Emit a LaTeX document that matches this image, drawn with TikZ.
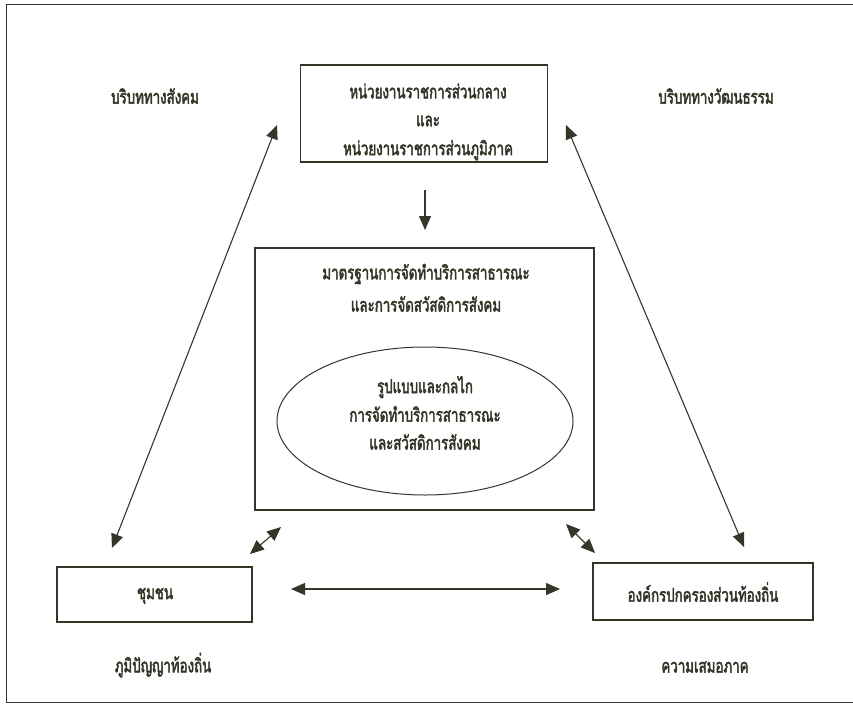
\documentclass[tikz,border=0pt]{standalone}
\usepackage{fontspec}
\newfontfamily\thai[Script=Thai,FakeStretch=0.7,FakeBold=2.4]{Loma}
\usetikzlibrary{arrows.meta,shapes.geometric}
\definecolor{ink}{RGB}{52,54,40}
\begin{document}
\begin{tikzpicture}[x=1pt,y=-1pt,
  lbl/.style={font=\thai\fontsize{19}{30}\selectfont, text=ink, align=center, inner sep=0pt},
  box/.style={draw=ink, line width=1.3pt, inner sep=0pt},
  conn/.style={draw=ink, line width=1.1pt, {Triangle[length=14pt,width=12pt]}-{Triangle[length=14pt,width=12pt]}},
  oneway/.style={draw=ink, line width=1.1pt, -{Triangle[length=14pt,width=12pt]}}]
\useasboundingbox (0,0) rectangle (853,707);
% outer frame
\draw[ink, line width=1pt] (853,4) -- (6,4) -- (6,702) -- (853,702);
% boxes
\node[box, minimum width=247pt, minimum height=97pt] (top) at (424,113.5) {};
\node[box, minimum width=339pt, minimum height=262pt] (mid) at (424.5,379) {};
\node[draw=ink, line width=1pt, ellipse, minimum width=296pt, minimum height=148pt, inner sep=0pt] (ell) at (425,421) {};
\node[box, minimum width=195pt, minimum height=55pt] (comm) at (154.5,594.5) {};
\node[box, minimum width=220pt, minimum height=57pt] (lao) at (703,591.5) {};
% texts
\node[lbl] (tSoc) at (155,96) {บริบททางสังคม};
\node[lbl] (tCul) at (716,96) {บริบททางวัฒนธรรม};
\node[lbl] (tTop1) at (428,91) {หน่วยงานราชการส่วนกลาง};
\node[lbl] (tTop2) at (428,121) {และ};
\node[lbl] (tTop3) at (428,150) {หน่วยงานราชการส่วนภูมิภาค};
\node[lbl] (tMid1) at (426,274) {มาตรฐานการจัดทำบริการสาธารณะ};
\node[lbl] (tMid2) at (426,304) {และการจัดสวัสดิการสังคม};
\node[lbl] (tEll1) at (425,387) {รูปแบบและกลไก};
\node[lbl] (tEll2) at (425,414) {การจัดทำบริการสาธารณะ};
\node[lbl] (tEll3) at (425,442) {และสวัสดิการสังคม};
\node[lbl] (tComm) at (155,596) {ชุมชน};
\node[lbl] (tLao) at (703,592) {องค์กรปกครองส่วนท้องถิ่น};
\node[lbl] (tWis) at (163,665) {ภูมิปัญญาท้องถิ่น};
\node[lbl] (tEq) at (705,667) {ความเสมอภาค};
% connector end points
\coordinate (aTL) at (277,125);
\coordinate (aBL) at (112,548);
\coordinate (aTR) at (566,125);
\coordinate (aBR) at (744,547);
\coordinate (sL1) at (281,527);
\coordinate (sL2) at (250,554);
\coordinate (sR1) at (566,524);
\coordinate (sR2) at (595,553);
\coordinate (hL) at (291,589);
\coordinate (hR) at (560,589);
\coordinate (dTop) at (425,190);
\coordinate (dBot) at (425,230);
% connectors
\draw[conn] (aTL) -- (aBL);
\draw[conn] (aTR) -- (aBR);
\draw[conn] (sL1) -- (sL2);
\draw[conn] (sR1) -- (sR2);
\draw[conn] (hL) -- (hR);
\draw[oneway] (dTop) -- (dBot);
\end{tikzpicture}
\end{document}
